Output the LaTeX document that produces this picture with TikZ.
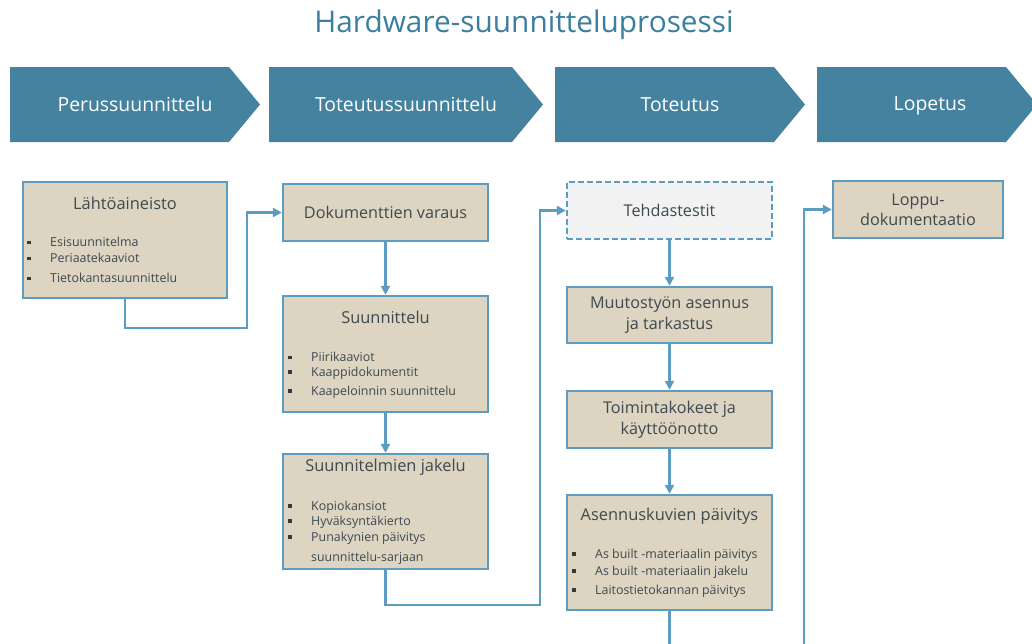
\documentclass[tikz,border=0pt]{standalone}
\usepackage{fontspec}
\setmainfont{Open Sans}
\usetikzlibrary{arrows.meta}

\definecolor{phaseblue}{HTML}{44829F}
\definecolor{titleblue}{HTML}{3C7EA0}
\definecolor{boxfill}{HTML}{DDD4C1}
\definecolor{boxline}{HTML}{5B9CC0}
\definecolor{textgray}{HTML}{3E4A50}
\definecolor{testfill}{HTML}{F2F2F2}

\newcommand{\sqbul}{\makebox[23pt][l]{\color{textgray!80!black}\rule[0.2em]{3.6pt}{3.6pt}}}

\begin{document}
\begin{tikzpicture}[x=1pt, y=-1pt,
  title/.style={text=titleblue, font=\fontsize{29.8}{34}\selectfont},
  phase/.style={text=white, font=\fontsize{19.4}{23}\selectfont},
  box/.style={draw=boxline, line width=2.3pt, fill=boxfill, minimum width=205pt, text=textgray, font=\fontsize{16.2}{21}\selectfont},
  head/.style={text=textgray, font=\fontsize{16.4}{21}\selectfont},
  item/.style={anchor=west, inner sep=0pt, text=textgray, font=\fontsize{12.4}{15}\selectfont},
  flow/.style={draw=boxline, line width=2.3pt, -{Triangle[length=9pt,width=9pt]}}]

\useasboundingbox (0,0) rectangle (1032,643);
\clip (0,0) rectangle (1032,643);

\node[title] (title) at (524,25) {Hardware-suunnitteluprosessi};

% phases
\fill[phaseblue] (10,67) -- (229,67) -- (260,104.5) -- (229,142) -- (10,142) -- cycle;
\fill[phaseblue] (269,67) -- (512,67) -- (543,104.5) -- (512,142) -- (269,142) -- cycle;
\fill[phaseblue] (555,67) -- (774,67) -- (805,104.5) -- (774,142) -- (555,142) -- cycle;
\fill[phaseblue] (817,67) -- (1006,67) -- (1037,104.5) -- (1006,142) -- (817,142) -- cycle;
\node[phase] (p1) at (135,104.5) {Perussuunnittelu};
\node[phase] (p2) at (406,104.5) {Toteutussuunnittelu};
\node[phase] (p3) at (680,104.5) {Toteutus};
\node[phase] (p4) at (930,106) {Lopetus};

% boxes
\node[box, minimum width=204pt, minimum height=116pt] (lahto) at (125,240) {};
\node[head] (lahtoT) at (125,203) {Lähtöaineisto};
\node[item] (lahto1) at (27,242) {\sqbul Esisuunnitelma};
\node[item] (lahto2) at (27,258) {\sqbul Periaatekaaviot};
\node[item] (lahto3) at (27,278) {\sqbul Tietokantasuunnittelu};

\node[box, minimum height=57pt] (varaus) at (385.5,212.5) {Dokumenttien varaus};

\node[box, minimum height=116pt] (suunn) at (385.5,354) {};
\node[head] (suunnT) at (385.5,317) {Suunnittelu};
\node[item] (suunn1) at (288,357) {\sqbul Piirikaaviot};
\node[item] (suunn2) at (288,373) {\sqbul Kaappidokumentit};
\node[item] (suunn3) at (288,392) {\sqbul Kaapeloinnin suunnittelu};

\node[box, minimum height=115pt] (jakelu) at (385.5,511.5) {};
\node[head] (jakeluT) at (385.5,467) {Suunnitelmien jakelu};
\node[item] (jakelu1) at (288,507) {\sqbul Kopiokansiot};
\node[item] (jakelu2) at (288,522) {\sqbul Hyväksyntäkierto};
\node[item] (jakelu3) at (288,538) {\sqbul Punakynien päivitys};
\node[item] (jakelu4) at (311,558) {suunnittelu-sarjaan};

\node[box, dash pattern=on 6pt off 3pt, fill=testfill, minimum height=57pt] (testit) at (669.5,210.5) {Tehdastestit};
\node[box, minimum height=56pt, align=center] (muutos) at (669.5,315) {Muutostyön asennus\\ja tarkastus};
\node[box, minimum height=57pt, align=center] (toiminta) at (669.5,419.5) {Toimintakokeet ja\\käyttöönotto};

\node[box, minimum height=115pt] (kuvat) at (669.5,552.5) {};
\node[head] (kuvatT) at (669.5,516) {Asennuskuvien päivitys};
\node[item] (kuvat1) at (572,555) {\sqbul As built -materiaalin päivitys};
\node[item] (kuvat2) at (572,572) {\sqbul As built -materiaalin jakelu};
\node[item] (kuvat3) at (572,591) {\sqbul Laitostietokannan päivitys};

\node[box, minimum width=170pt, minimum height=57pt, align=center, font=\fontsize{16.2}{20}\selectfont] (loppu) at (918,209.5) {Loppu-\\dokumentaatio};

% connections
\coordinate (bendA) at (247,328);
\coordinate (bendB) at (540,605);
\coordinate (bendC) at (804,665);
\draw[flow] (lahto.south) |- (bendA) |- (varaus.west);
\draw[flow] (varaus) -- (suunn);
\draw[flow] (suunn) -- (jakelu);
\draw[flow] (jakelu.south) |- (bendB) |- (testit.west);
\draw[flow] (testit) -- (muutos);
\draw[flow] (muutos) -- (toiminta);
\draw[flow] (toiminta) -- (kuvat);
\draw[flow] (kuvat.south) |- (bendC) |- (loppu.west);

\end{tikzpicture}
\end{document}
